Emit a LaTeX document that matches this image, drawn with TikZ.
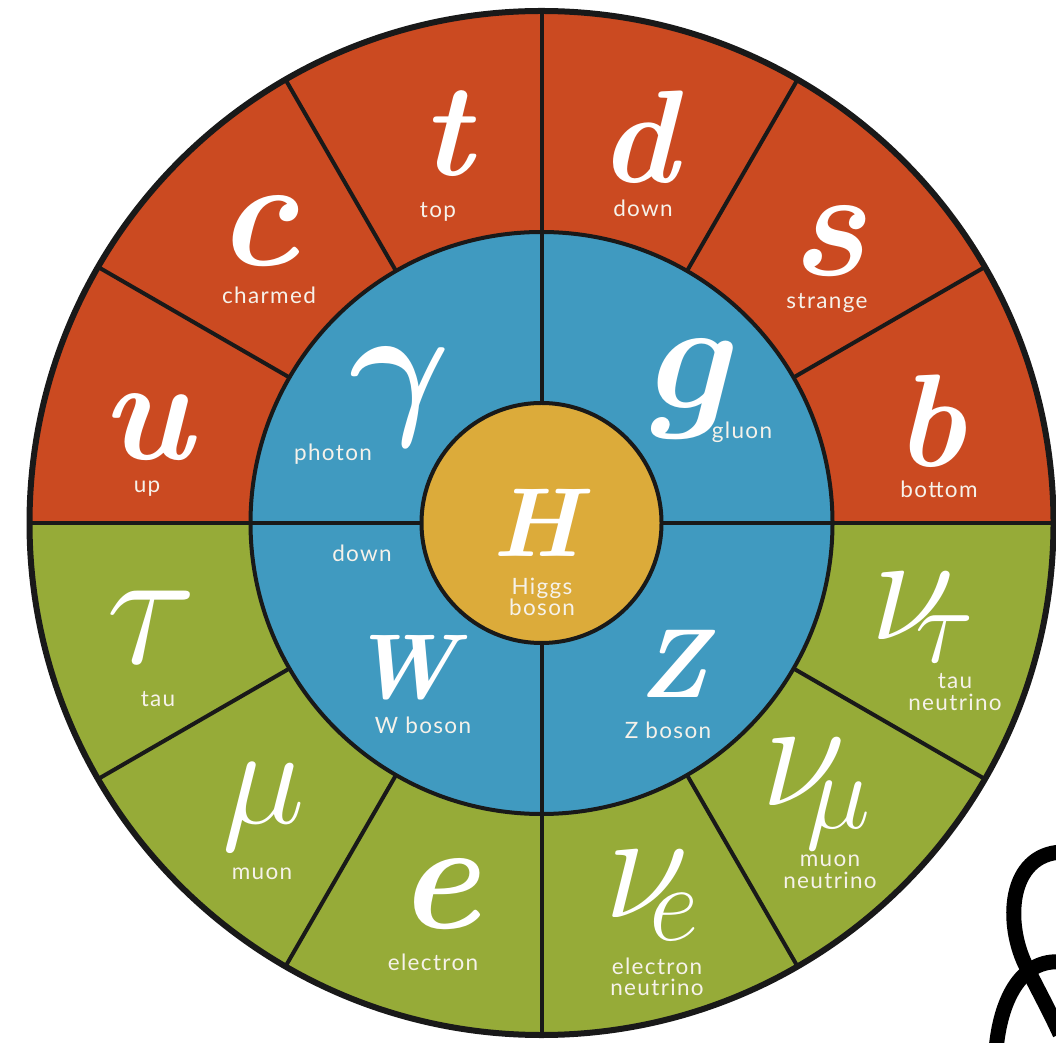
\RequirePackage{fix-cm}
\documentclass[tikz,border=0pt]{standalone}
\usepackage{fontspec}
\usepackage{bm}
\newfontfamily\labfont[LetterSpace=6]{Lato}
\usetikzlibrary{calc}
\definecolor{quarkred}{RGB}{203,74,33}
\definecolor{leptongreen}{RGB}{150,171,56}
\definecolor{bosonblue}{RGB}{64,154,192}
\definecolor{higgsyellow}{RGB}{220,171,58}
\definecolor{labwhite}{RGB}{246,242,234}

\begin{document}
\begin{tikzpicture}[x=1pt,y=1pt, sym/.style={text=white,inner sep=0pt,font=\fontsize{155}{155}\selectfont\bfseries\itshape},symtall/.style={sym,font=\fontsize{132}{132}\selectfont\bfseries\itshape},symcap/.style={sym,font=\fontsize{98}{98}\selectfont\bfseries\itshape}, lab/.style={text=labwhite,inner sep=0pt,align=center,font=\labfont\fontsize{22.5}{21.5}\selectfont}, sep/.style={line width=4pt,draw=black!90},rim/.style={line width=6pt,draw=black!90}]
 \useasboundingbox (0,0) rectangle (1056,1042);

 \coordinate (C) at (541.5,519);

 % rings
 \fill[quarkred] ($(C)+(0:512)$) arc[start angle=0,end angle=180,radius=512] -- cycle;
 \fill[leptongreen] ($(C)+(180:512)$) arc[start angle=180,end angle=360,radius=512] -- cycle;
 \fill[bosonblue] (C) circle[radius=291];
 \foreach \a in {0,30,...,330}
   \draw[sep] ($(C)+(\a:291)$) -- ($(C)+(\a:512)$);
 \foreach \a in {0,90,180,270}
   \draw[sep] ($(C)+(\a:120)$) -- ($(C)+(\a:291)$);
 \draw[sep] (C) circle[radius=291];
 \draw[sep,fill=higgsyellow] (C) circle[radius=120];
 \draw[rim] (C) circle[radius=512];

 % quarks
 \node[symtall] (top) at (447,908) {t};
 \node[lab] (topl) at (438,830) {top};
 \node[symtall] (down) at (638,905) {d};
 \node[lab] (downl) at (643,834) {down};
 \node[sym] (charm) at (258,811) {c};
 \node[lab] (charml) at (269,747) {charmed};
 \node[sym] (strange) at (828,801) {s};
 \node[lab] (strangel) at (827,739) {strange};
 \node[sym,font=\fontsize{146}{146}\selectfont\bfseries\itshape] (up) at (147,615) {u};
 \node[lab] (upl) at (147,553) {up};
 \node[symtall] (bottom) at (931,621) {b};
 \node[lab] (bottoml) at (939,553) {bottom};

 % bosons
 \node[sym] (photon) at (400,645) {$\bm{\gamma}$};
 \node[lab] (photonl) at (333,588) {photon};
 \node[sym] (gluon) at (696,653) {$\bm{g}$};
 \node[lab] (gluonl) at (742,610) {gluon};
 \node[symcap] (higgs) at (536,519) {H};
 \node[lab] (higgsl) at (542,445) {Higgs\\boson};
 \node[lab] (downb) at (362,489) {down};
 \node[symcap,font=\fontsize{92}{92}\selectfont\bfseries\itshape] (wbos) at (404,374) {W};
 \node[lab] (wbosl) at (423,317) {W boson};
 \node[symcap] (zbos) at (673,378) {Z};
 \node[lab] (zbosl) at (668,312) {Z boson};

 % leptons
 \node[sym,font=\fontsize{168}{168}\selectfont] (tau) at (152,415) {$\tau$};
 \node[lab] (taul) at (158,343) {tau};
 \node[sym,font=\fontsize{140}{140}\selectfont] (muon) at (264,235) {$\mu$};
 \node[lab] (muonl) at (262,168) {muon};
 \node[sym] (elec) at (439,148) {e};
 \node[lab] (elecl) at (433,80) {electron};
 \node[sym] (nutau) at (922,424) {$\nu_{\mkern-5mu\tau}$};
 \node[lab] (nutaul) at (955,350) {tau\\neutrino};
 \node[sym] (numu) at (816,248) {$\nu_{\mkern-5mu\mu}$};
 \node[lab] (numul) at (830,170) {muon\\neutrino};
 \node[sym] (nue) at (652,146) {$\nu_{\mkern-5mu e}$};
 \node[lab] (nuel) at (657,65) {electron\\neutrino};

 % stray stroke in the corner
 \begin{scope}
  \clip (0,0) rectangle (1056,1042);
  \draw[line width=15pt] (1062,190) .. controls (1008,188) and (1004,118) .. (1027,74) .. controls (1038,52) and (1050,30) .. (1060,8);
  \draw[line width=15pt] (1062,80) .. controls (1020,84) and (1000,40) .. (996,-8);
 \end{scope}
\end{tikzpicture}
\end{document}
